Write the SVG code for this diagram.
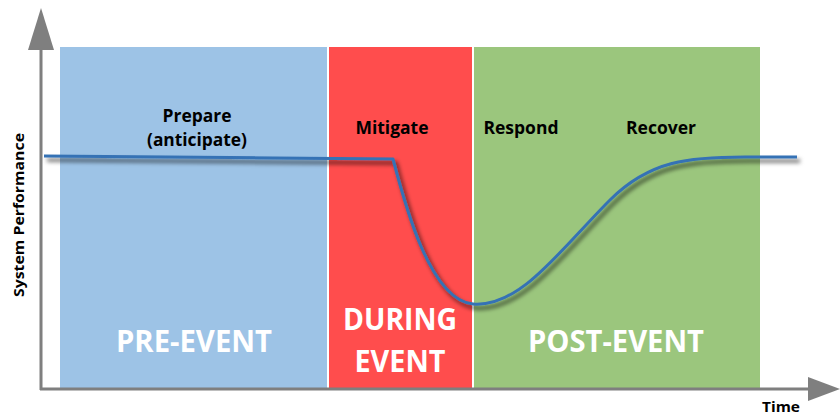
<svg xmlns="http://www.w3.org/2000/svg" width="840" height="415" viewBox="0 0 840 415">
  <defs>
    <style>
      .phase-label { font-family: "Open Sans", "Liberation Sans", sans-serif; font-weight: bold; fill: #000; font-size: 17px; text-anchor: middle; }
      .phase-title { font-family: "Open Sans", "Liberation Sans", sans-serif; font-weight: bold; fill: #fff; font-size: 30px; text-anchor: middle; }
      .axis-label { font-family: "Open Sans", "Liberation Sans", sans-serif; font-weight: bold; fill: #000; font-size: 14px; text-anchor: middle; }
      .axis { stroke: #7f7f7f; stroke-width: 3; fill: none; }
      .axis-head { fill: #7f7f7f; }
      .perf { stroke: #3572b5; stroke-width: 3; fill: none; stroke-linejoin: round; }
    </style>
    <filter id="shadow" x="-10%" y="-20%" width="120%" height="140%">
      <feDropShadow dx="3" dy="4" stdDeviation="2" flood-color="#000" flood-opacity="0.65"/>
    </filter>
  </defs>

  <rect width="840" height="415" fill="#fff"/>

  <!-- phase bands -->
  <g id="pre-event">
    <rect x="60" y="47" width="267" height="341" fill="#9dc3e6"/>
    <text class="phase-label" x="197" y="122" textLength="69" lengthAdjust="spacingAndGlyphs">Prepare</text>
    <text class="phase-label" x="197" y="146" textLength="100" lengthAdjust="spacingAndGlyphs">(anticipate)</text>
    <text class="phase-title" x="194" y="352" textLength="156" lengthAdjust="spacingAndGlyphs">PRE-EVENT</text>
  </g>
  <g id="during-event">
    <rect x="329" y="47" width="143" height="341" fill="#ff4d4d"/>
    <text class="phase-label" x="392" y="134" textLength="73" lengthAdjust="spacingAndGlyphs">Mitigate</text>
    <text class="phase-title" x="400" y="330" textLength="114" lengthAdjust="spacingAndGlyphs">DURING</text>
    <text class="phase-title" x="400" y="372" textLength="91" lengthAdjust="spacingAndGlyphs">EVENT</text>
  </g>
  <g id="post-event">
    <rect x="474" y="47" width="286" height="341" fill="#9bc67d"/>
    <text class="phase-label" x="521" y="134" textLength="75" lengthAdjust="spacingAndGlyphs">Respond</text>
    <text class="phase-label" x="661" y="134" textLength="70" lengthAdjust="spacingAndGlyphs">Recover</text>
    <text class="phase-title" x="616" y="352" textLength="176" lengthAdjust="spacingAndGlyphs">POST-EVENT</text>
  </g>

  <!-- axes -->
  <g id="axes">
    <line class="axis" x1="41" y1="390" x2="41" y2="48"/>
    <polygon class="axis-head" points="28,50 41,8 54,50"/>
    <line class="axis" x1="40" y1="389" x2="810" y2="389"/>
    <polygon class="axis-head" points="808,377 840,389 808,401"/>
    <text class="axis-label" transform="translate(24,215) rotate(-90)" textLength="164" lengthAdjust="spacingAndGlyphs">System Performance</text>
    <text class="axis-label" x="781" y="412" textLength="38" lengthAdjust="spacingAndGlyphs">Time</text>
  </g>

  <!-- performance curve -->
  <g id="connectors">
    <path class="perf" filter="url(#shadow)" d="M44,156 L393,159 C405,205 430,300 473,304 C520,308 560,250 610,200 C650,160 690,157 745,157 L797,157"/>
  </g>
</svg>
